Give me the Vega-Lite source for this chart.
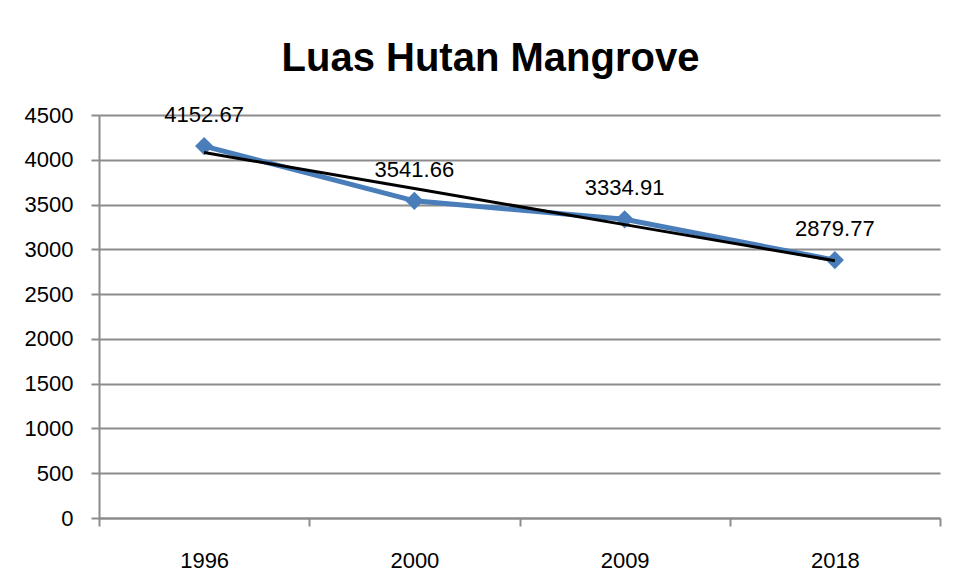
{
  "$schema": "https://vega.github.io/schema/vega-lite/v6.json",
  "width": 841,
  "height": 403,
  "autosize": {"type": "none"},
  "padding": {"left": 99, "top": 115, "right": 15, "bottom": 61},
  "background": "white",
  "config": {
    "view": {"stroke": null},
    "font": "Liberation Sans, Arial, sans-serif"
  },
  "title": {
    "text": "Luas Hutan Mangrove",
    "fontSize": 40,
    "fontWeight": "bold",
    "font": "Liberation Sans, Arial, sans-serif",
    "color": "#000000",
    "anchor": "middle",
    "baseline": "bottom",
    "dx": -29,
    "dy": 50,
    "offset": 35
  },
  "data": {
    "values": [
      {"year": "1996", "luas": 4152.67, "trend": 4081.07},
      {"year": "2000", "luas": 3541.66, "trend": 3678.52},
      {"year": "2009", "luas": 3334.91, "trend": 3275.98},
      {"year": "2018", "luas": 2879.77, "trend": 2873.43}
    ]
  },
  "encoding": {
    "x": {
      "field": "year",
      "type": "ordinal",
      "bandPosition": 0.5,
      "scale": {"type": "band", "paddingInner": 0, "paddingOuter": 0},
      "axis": {
        "title": null,
        "tickBand": "extent",
        "labelAngle": 0,
        "labelFontSize": 22,
        "labelColor": "#000000",
        "labelPadding": 24,
        "tickSize": 8,
        "tickColor": "#8c8c8c",
        "tickWidth": 2,
        "domainColor": "#8c8c8c",
        "domainWidth": 2,
        "grid": false
      }
    }
  },
  "layer": [
    {
      "mark": {"type": "line", "color": "#4A7EBB", "strokeWidth": 5},
      "encoding": {
        "y": {
          "field": "luas",
          "type": "quantitative",
          "scale": {"domain": [0, 4500], "nice": false},
          "axis": {
            "title": null,
            "format": "d",
            "values": [0, 500, 1000, 1500, 2000, 2500, 3000, 3500, 4000, 4500],
            "labelFontSize": 22,
            "labelColor": "#000000",
            "labelPadding": 18,
            "tickSize": 8,
            "tickColor": "#8c8c8c",
            "tickWidth": 2,
            "domainColor": "#8c8c8c",
            "domainWidth": 2,
            "grid": true,
            "gridColor": "#8c8c8c",
            "gridWidth": 2
          }
        }
      }
    },
    {
      "mark": {"type": "point", "shape": "diamond", "filled": true, "color": "#4A7EBB", "size": 330, "opacity": 1},
      "encoding": {"y": {"field": "luas", "type": "quantitative"}}
    },
    {
      "mark": {"type": "line", "color": "#000000", "strokeWidth": 3},
      "encoding": {"y": {"field": "trend", "type": "quantitative"}}
    },
    {
      "mark": {"type": "text", "dy": -31, "fontSize": 22, "color": "#000000"},
      "encoding": {
        "y": {"field": "luas", "type": "quantitative"},
        "text": {"field": "luas", "type": "quantitative", "format": ".2f"}
      }
    }
  ]
}
